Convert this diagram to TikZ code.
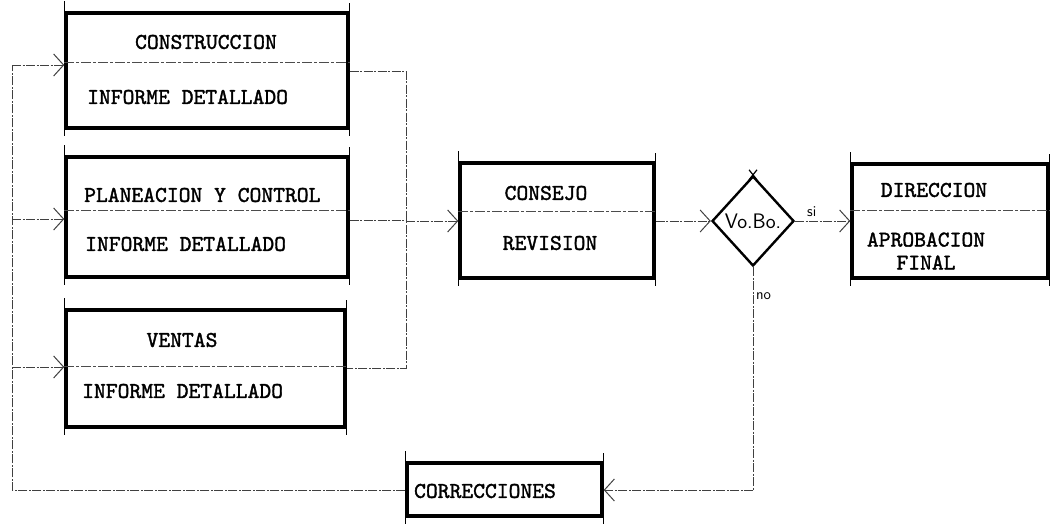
\documentclass[tikz,border=0pt]{standalone}
\usepackage{fontspec}
\usetikzlibrary{arrows.meta,shapes.geometric}
\newfontfamily\twfont{lmmono10-regular.otf}[FakeBold=1.6]
\newcommand\tw{\twfont\fontsize{22.5}{23}\selectfont}
\newcommand\sw{\sffamily\fontsize{21}{22}\selectfont}
\tikzset{
  boxshape/.style={draw=black, line width=3.4pt, minimum width=#1, inner sep=0pt},
  conn/.style={draw=black!75, line width=0.9pt, dash pattern=on 9pt off 1.5pt on 2pt off 1.5pt},
  arr/.style={conn, -{Straight Barb[length=10pt,width=22pt,line width=1pt]}},
  divline/.style={draw=black!70, line width=0.9pt, dash pattern=on 10pt off 2pt on 3pt off 2pt},
  tick/.style={draw=black, line width=1.2pt},
  lbl/.style={inner sep=0pt, font=\tw, text=black},
  slbl/.style={inner sep=0pt, font=\sffamily\fontsize{15}{17}\selectfont},
}
\begin{document}
\begin{tikzpicture}[x=1pt,y=-1pt]
\useasboundingbox (0,0) rectangle (1054,526);
% boxes
\node[boxshape=282pt, minimum height=115pt] (b1) at (207,70.5) {};
\node[boxshape=282pt, minimum height=120pt] (b2) at (207,217) {};
\node[boxshape=279pt, minimum height=117pt] (b3) at (205.5,368.5) {};
\node[boxshape=194pt, minimum height=115pt] (cons) at (557,220.5) {};
\node[boxshape=196pt, minimum height=114pt] (dir) at (950,221) {};
\node[boxshape=195pt, minimum height=53pt] (corr) at (504.5,489.5) {};
\node[draw=black, line width=2.4pt, diamond, minimum width=82pt, minimum height=90pt, inner sep=0pt] (dia) at (753,221) {};
% corner ticks
\foreach \b in {b1,b2,b3,cons,dir,corr}{
  \draw[tick] (\b.north west) -- ++(0,-10);
  \draw[tick] (\b.north east) -- ++(0,-8);
  \draw[tick] (\b.south west) -- ++(0,6);
  \draw[tick] (\b.south east) -- ++(0,6);
}
\draw[tick] (dia.north) ++(-4,-5) -- ++(8,10);
\draw[tick] (dia.north) ++(4,-5) -- ++(-8,10);
% dividers
\draw[divline] (b1.west |- 0,62) -- (b1.east |- 0,62);
\draw[divline] (b2.west |- 0,210) -- (b2.east |- 0,210);
\draw[divline] (b3.west |- 0,366) -- (b3.east |- 0,366);
\draw[divline] (cons.west |- 0,211) -- (cons.east |- 0,211);
\draw[divline] (dir.west |- 0,210) -- (dir.east |- 0,210);
% texts
\node[lbl] (t1a) at (206,42) {CONSTRUCCION};
\node[lbl, anchor=west] (t1b) at (87,97) {INFORME DETALLADO};
\node[lbl, anchor=west] (t2a) at (84,195) {PLANEACION Y CONTROL};
\node[lbl, anchor=west] (t2b) at (85,244) {INFORME DETALLADO};
\node[lbl] (t3a) at (182,340) {VENTAS};
\node[lbl, anchor=west] (t3b) at (82,391) {INFORME DETALLADO};
\node[lbl] (tc1) at (546,193) {CONSEJO};
\node[lbl] (tc2) at (550,243) {REVISION};
\node[lbl] (td1) at (934,190) {DIRECCION};
\node[lbl, align=center] (td2) at (926,251) {APROBACION\\FINAL};
\node[lbl] (tco) at (485,491) {CORRECCIONES};
\node[inner sep=0pt, font=\sw] (tv) at (dia.center) {Vo.Bo.};
% connector coordinates
\coordinate (lt) at (12,65);
\coordinate (l2) at (12,219);
\coordinate (l3) at (12,367);
\coordinate (lb) at (12,490);
\coordinate (rt) at (406,71);
\coordinate (rm) at (406,221);
\coordinate (rb) at (406,368);
\coordinate (db) at (753,490);
% connectors
\draw[conn] (b1.east |- rt) -- (rt) -- (rb) -- (b3.east |- rb);
\draw[conn] (b2.east |- 0,220) -- (406,220);
\draw[arr] (rm) -- (cons.west |- rm);
\draw[arr] (cons.east |- 0,221) -- (dia.west);
\draw[arr] (dia.east) -- (dir.west |- dia.east) node[slbl, pos=0.3, above=4pt] (si) {si};
\draw[conn] (dia.south) -- (db);
\draw[arr] (db) -- (corr.east |- db);
\node[slbl, anchor=west] (no) at (756,296) {no};
\draw[conn] (corr.west |- lb) -- (lb) -- (lt);
\draw[arr] (lt) -- (b1.west |- lt);
\draw[arr] (l2) -- (b2.west |- l2);
\draw[arr] (l3) -- (b3.west |- l3);
\end{tikzpicture}
\end{document}
